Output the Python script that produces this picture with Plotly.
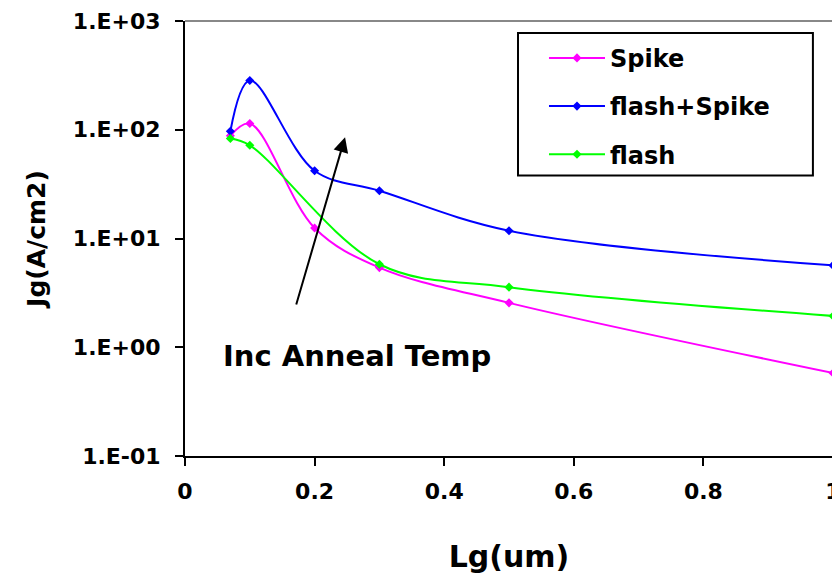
import plotly.graph_objects as go

lg_spike = [0.07, 0.1, 0.2, 0.3, 0.5, 1.0]
jg_spike = [88, 114, 12.5, 5.4, 2.56, 0.58]

lg_flash_spike = [0.07, 0.1, 0.2, 0.3, 0.5, 1.0]
jg_flash_spike = [97, 284, 42, 27.5, 11.8, 5.66]

lg_flash = [0.07, 0.1, 0.3, 0.5, 1.0]
jg_flash = [83, 72, 5.8, 3.57, 1.94]

y_tick_vals = [0.1, 1, 10, 100, 1000]
y_tick_text = ["1.E-01", "1.E+00", "1.E+01", "1.E+02", "1.E+03"]
x_tick_vals = [0, 0.2, 0.4, 0.6, 0.8, 1]
x_tick_text = ["0", "0.2", "0.4", "0.6", "0.8", "1"]

FONT = "DejaVu Sans, Liberation Sans, Arial, sans-serif"

fig = go.Figure()
for name, xs, ys, col in [
    ("Spike", lg_spike, jg_spike, "#FF00FF"),
    ("flash+Spike", lg_flash_spike, jg_flash_spike, "#0000FF"),
    ("flash", lg_flash, jg_flash, "#00FF00"),
]:
    fig.add_trace(go.Scatter(
        x=xs, y=ys, name=name, mode="lines+markers", legendgroup=name,
        line=dict(color=col, width=2, shape="spline", smoothing=1.0),
        marker=dict(symbol="diamond", size=7, color=col),
    ))

# arrow (log axis: y given as log10 values)
fig.add_annotation(
    x=0.247, y=1.932, xref="x", yref="y",
    ax=0.171, ay=0.379, axref="x", ayref="y",
    text="", showarrow=True, arrowhead=2, arrowsize=1.5, arrowwidth=2,
    arrowcolor="black",
)
fig.add_annotation(
    x=0.055, y=-0.08, xref="x", yref="y", xanchor="left", yanchor="middle",
    text="<b>Inc Anneal Temp</b>", showarrow=False,
    font=dict(family=FONT, size=29, color="black"),
)

# page body has an 8px margin, so the figure is sized/offset to compensate
fig.update_layout(
    width=832, height=573,
    margin=dict(l=177, r=7, t=13, b=125),
    paper_bgcolor="white", plot_bgcolor="white",
    font=dict(family=FONT, color="black"),
    showlegend=True,
    legend=dict(
        x=0.554, y=0.966, xanchor="left", yanchor="top",
        bgcolor="rgba(0,0,0,0)", borderwidth=0,
        font=dict(family=FONT, size=24, color="black", weight="bold"),
        itemwidth=56, traceorder="grouped", tracegroupgap=14,
    ),
    xaxis=dict(
        range=[0, 1], tickvals=x_tick_vals, ticktext=["<b>%s</b>" % t for t in x_tick_text],
        ticks="outside", ticklen=8, tickwidth=1.5, tickcolor="black",
        showline=True, linecolor="black", linewidth=2, mirror=False,
        showgrid=False, zeroline=False, automargin=False,
        ticklabelstandoff=7, ticklabeloverflow="allow",
        tickfont=dict(family=FONT, size=22, color="black"),
        title=dict(text="<b>Lg(um)</b>", font=dict(family=FONT, size=30, color="black"), standoff=43),
    ),
    yaxis=dict(
        type="log", range=[-1, 3], tickvals=y_tick_vals, ticktext=["<b>%s</b>" % t for t in y_tick_text],
        ticks="outside", ticklen=8, tickwidth=1.5, tickcolor="black",
        showline=True, linecolor="black", linewidth=2,
        showgrid=False, zeroline=False, automargin=False,
        ticklabelstandoff=10, ticklabeloverflow="allow",
        tickfont=dict(family=FONT, size=22, color="black"),
        title=dict(text="<b>Jg(A/cm2)</b>", font=dict(family=FONT, size=25, color="black"), standoff=20),
    ),
    shapes=[
        dict(type="line", xref="paper", yref="paper", x0=0, x1=1, y0=1, y1=1,
             line=dict(color="#888888", width=2)),
        dict(type="line", xref="paper", yref="paper", x0=1, x1=1, y0=0, y1=1,
             line=dict(color="#888888", width=2)),
        dict(type="rect", xref="paper", yref="paper", x0=0.5139, x1=0.969, y0=0.645, y1=0.9726,
             line=dict(color="black", width=2), fillcolor="white", layer="above"),
    ],
)

fig.write_html("out.html")
